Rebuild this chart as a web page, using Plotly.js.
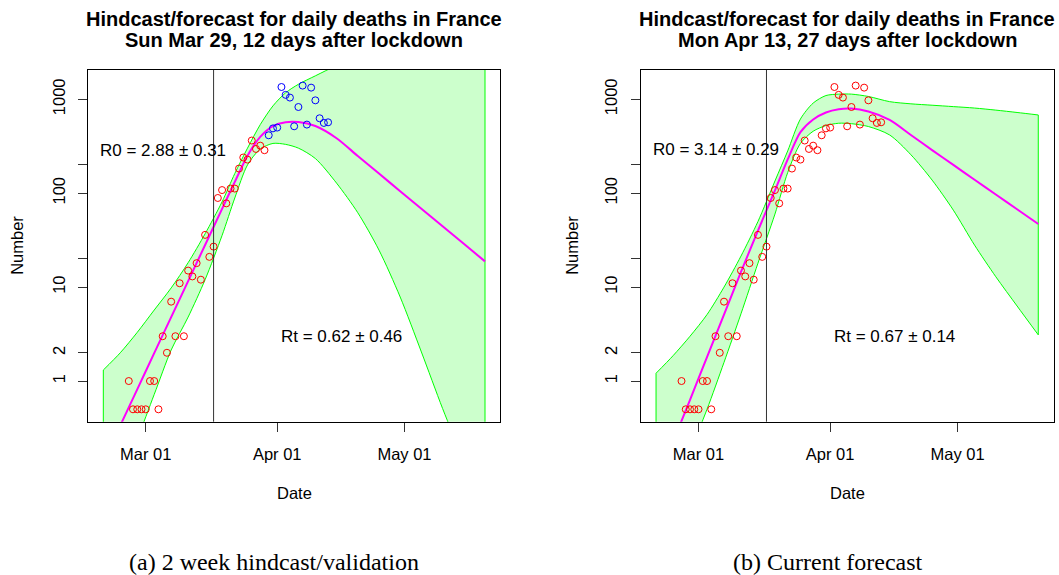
<!DOCTYPE html>
<html><head><meta charset="utf-8">
<script src="https://cdn.plot.ly/plotly-3.0.1.min.js"></script>
<style>html,body{margin:0;padding:0;background:#fff}#chart{width:1059px;height:575px}</style>
</head><body><div id="chart"></div>
<script>
// ---------- data ----------
const obsDates = ['2020-02-26','2020-02-27','2020-02-28','2020-02-29','2020-03-01','2020-03-02','2020-03-03','2020-03-04',
 '2020-03-05','2020-03-06','2020-03-07','2020-03-08','2020-03-09','2020-03-10','2020-03-11','2020-03-12','2020-03-13',
 '2020-03-14','2020-03-15','2020-03-16','2020-03-17','2020-03-18','2020-03-19','2020-03-20','2020-03-21','2020-03-22',
 '2020-03-23','2020-03-24','2020-03-25','2020-03-26','2020-03-27','2020-03-28','2020-03-29','2020-03-30','2020-03-31',
 '2020-04-01','2020-04-02','2020-04-03','2020-04-04','2020-04-05','2020-04-06','2020-04-07','2020-04-08','2020-04-09',
 '2020-04-10','2020-04-11','2020-04-12','2020-04-13'];
const obsDeaths = [1,0,0,0,0,1,1,0,
 3,2,7,3,11,3,15,13,18,
 12,36,21,27,89,108,78,112,112,
 183,240,228,364,296,321,287,414,490,
 500,1352,1115,1043,516,828,1400,538,1331,
 975,628,560,569];
const zeroPlotValue = 0.5;          // zero counts are drawn at 0.5 on the log axis
const hindcastEnd = '2020-03-29';   // last day used for the fit in panel (a)
const lockdownDate = '2020-03-17';

const curveDates = ['2020-02-20','2020-02-24','2020-02-28','2020-03-03','2020-03-07','2020-03-11','2020-03-15',
 '2020-03-19','2020-03-22','2020-03-25','2020-03-28','2020-03-31','2020-04-03','2020-04-06','2020-04-10',
 '2020-04-15','2020-04-20','2020-04-25','2020-04-30','2020-05-05','2020-05-10','2020-05-15','2020-05-20'];

// panel (a): fit on data to Mar 29
const fitA   = [0.139,0.336,0.815,1.98,4.79,11.6,28.1,68.2,132,251,398,519,571,573,519,385,249,162,105,68.4,44.5,28.9,18.8];
const upperA = [1.31,2.0,3.3,5.7,9.8,18.2,37,81,162,302,537,851,1175,1445,1778,2290,2818,3500,4400,5600,7000,8900,11000];
const lowerA = [0.063,0.126,0.25,0.72,2.14,4.8,12,35.5,89,200,295,339,331,302,234,128,62,24.8,7.85,2.04,0.51,0.14,0.035];
// panel (b): fit on data to Apr 13
const fitB   = [0.079,0.224,0.63,1.8,5.1,14.5,40,107,229,447,610,724,785,798,741,603,417,288,200,139,96.8,67.5,47];
const upperB = [1.21,1.86,3.0,5.1,10,21.4,50,135,282,617,912,1096,1135,1135,1072,944,895,865,836,807,767,724,681];
const lowerB = [0.032,0.07,0.178,0.5,1.58,5.2,18,60,166,339,457,525,556,550,513,417,257,138,66,28,12.9,6.3,3.1];

const titlesA = ['Hindcast/forecast for daily deaths in France','Sun Mar 29, 12 days after lockdown'];
const titlesB = ['Hindcast/forecast for daily deaths in France','Mon Apr 13, 27 days after lockdown'];
const rTextA = ['R0 = 2.88 \u00b1 0.31','Rt = 0.62 \u00b1 0.46'];
const rTextB = ['R0 = 3.14 \u00b1 0.29','Rt = 0.67 \u00b1 0.14'];
const captions = ['(a) 2 week hindcast/validation','(b) Current forecast'];
const xTickVals = ['2020-03-01','2020-04-01','2020-05-01'];
const xTickText = ['Mar 01','Apr 01','May 01'];
const yTickVals = [1,2,10,20,100,200,1000];
const yTickText = ['1','2','10','','100','','1000'];

// ---------- drawing ----------
const W = 1059, H = 575;
const px = x => x / W, py = y => 1 - y / H;
const SANS = 'Liberation Sans, Arial, sans-serif';
const SERIF = 'Liberation Serif, Times New Roman, serif';
const GREEN = '#00FF00', FILL = '#CCFFCC', MAG = '#FF00FF';

function bandTraces(xa, ya, lower, upper) {
  const n = curveDates.length;
  const base = {xaxis: xa, yaxis: ya, mode: 'lines', hoverinfo: 'skip', showlegend: false};
  return [
    Object.assign({}, base, {x: curveDates, y: lower, line: {color: GREEN, width: 1, shape: 'spline', smoothing: 0.8}}),
    Object.assign({}, base, {x: curveDates, y: upper, line: {color: GREEN, width: 1, shape: 'spline', smoothing: 0.8},
      fill: 'tonexty', fillcolor: FILL}),
    Object.assign({}, base, {x: [curveDates[0], curveDates[0]], y: [lower[0], upper[0]], line: {color: GREEN, width: 1}}),
    Object.assign({}, base, {x: [curveDates[n-1], curveDates[n-1]], y: [lower[n-1], upper[n-1]], line: {color: GREEN, width: 1}})
  ];
}
function fitTrace(xa, ya, fit) {
  return {x: curveDates, y: fit, xaxis: xa, yaxis: ya, mode: 'lines', hoverinfo: 'skip', showlegend: false,
    line: {color: MAG, width: 2, shape: 'spline', smoothing: 0.8}};
}
function pointTrace(xa, ya, dates, vals, color) {
  return {x: dates, y: vals.map(v => v === 0 ? zeroPlotValue : v), xaxis: xa, yaxis: ya, mode: 'markers',
    hoverinfo: 'skip', showlegend: false,
    marker: {symbol: 'circle-open', size: 7, color: color, line: {color: color, width: 1}}};
}

const fitIdx = obsDates.map((d, i) => i).filter(i => obsDates[i] <= hindcastEnd);
const valIdx = obsDates.map((d, i) => i).filter(i => obsDates[i] > hindcastEnd);

const traces = [].concat(
  bandTraces('x', 'y', lowerA, upperA),
  [fitTrace('x', 'y', fitA),
   pointTrace('x', 'y', fitIdx.map(i => obsDates[i]), fitIdx.map(i => obsDeaths[i]), '#FF0000'),
   pointTrace('x', 'y', valIdx.map(i => obsDates[i]), valIdx.map(i => obsDeaths[i]), '#0000FF')],
  bandTraces('x2', 'y2', lowerB, upperB),
  [fitTrace('x2', 'y2', fitB),
   pointTrace('x2', 'y2', obsDates, obsDeaths, '#FF0000')]
);

const frameA = [88.3, 500.2], frameB = [641, 1053.5], frameY = [70, 421.7];
const xRange = ['2020-02-16 11:00', '2020-05-23 14:00'];
const yRange = [-0.433, 3.312];

function xAxis(dom, anchor) {
  return {domain: [px(dom[0]), px(dom[1])], anchor: anchor, type: 'date', range: xRange,
    tickmode: 'array', tickvals: xTickVals, ticktext: xTickText,
    ticks: 'outside', ticklen: 9, tickwidth: 1, tickcolor: '#333',
    showline: true, mirror: true, linecolor: '#000', linewidth: 1,
    showgrid: false, zeroline: false, ticklabelstandoff: 8,
    tickfont: {family: SANS, size: 16.5, color: '#000'}, fixedrange: true};
}
function yAxis(anchor) {
  return {domain: [py(frameY[1]), py(frameY[0])], anchor: anchor, type: 'log', range: yRange,
    tickmode: 'array', tickvals: yTickVals, ticktext: yTickText, tickangle: -90,
    ticks: 'outside', ticklen: 9, tickwidth: 1, tickcolor: '#333',
    showline: true, mirror: true, linecolor: '#000', linewidth: 1,
    showgrid: false, zeroline: false, ticklabelstandoff: 7,
    tickfont: {family: SANS, size: 16.5, color: '#000'}, fixedrange: true};
}

function ann(text, x, y, opts) {
  return Object.assign({text: text, x: px(x), y: py(y), xref: 'paper', yref: 'paper',
    xanchor: 'center', yanchor: 'middle', showarrow: false,
    font: {family: SANS, size: 16.5, color: '#000'}}, opts || {});
}
const bold = {family: SANS, size: 20, color: '#000', weight: 'bold'};
const label = {family: SANS, size: 17, color: '#000'};
const capFont = {family: SERIF, size: 24, color: '#000'};
const cA = (frameA[0] + frameA[1]) / 2, cB = (frameB[0] + frameB[1]) / 2;
const cY = (frameY[0] + frameY[1]) / 2;

const annotations = [
  ann(titlesA[0], cA, 18.5, {font: bold}), ann(titlesA[1], cA, 40.5, {font: bold}),
  ann(titlesB[0], cB, 18.5, {font: bold}), ann(titlesB[1], cB, 40.5, {font: bold}),
  ann('Date', cA, 493), ann('Date', cB, 493),
  ann('Number', 17, cY, {textangle: -90}), ann('Number', 572, cY, {textangle: -90}),
  ann(rTextA[0], 162.5, 150, {font: label}), ann(rTextA[1], 341, 336.5, {font: label}),
  ann(rTextB[0], 716, 149.5, {font: label}), ann(rTextB[1], 894, 336.5, {font: label}),
  ann(captions[0], 274, 562, {font: capFont}),
  ann(captions[1], 828, 562, {font: capFont})
];

const shapes = [
  {type: 'line', xref: 'x', yref: 'y domain', x0: lockdownDate, x1: lockdownDate, y0: 0, y1: 1,
   line: {color: '#333', width: 1}, layer: 'above'},
  {type: 'line', xref: 'x2', yref: 'y2 domain', x0: lockdownDate, x1: lockdownDate, y0: 0, y1: 1,
   line: {color: '#333', width: 1}, layer: 'above'}
];

const layout = {
  width: W, height: H, margin: {l: 0, r: 0, t: 0, b: 0},
  paper_bgcolor: '#fff', plot_bgcolor: '#fff', showlegend: false,
  xaxis: xAxis(frameA, 'y'), yaxis: yAxis('x'),
  xaxis2: xAxis(frameB, 'y2'), yaxis2: yAxis('x2'),
  annotations: annotations, shapes: shapes
};

Plotly.newPlot('chart', traces, layout, {staticPlot: true, displayModeBar: false});
</script></body></html>
